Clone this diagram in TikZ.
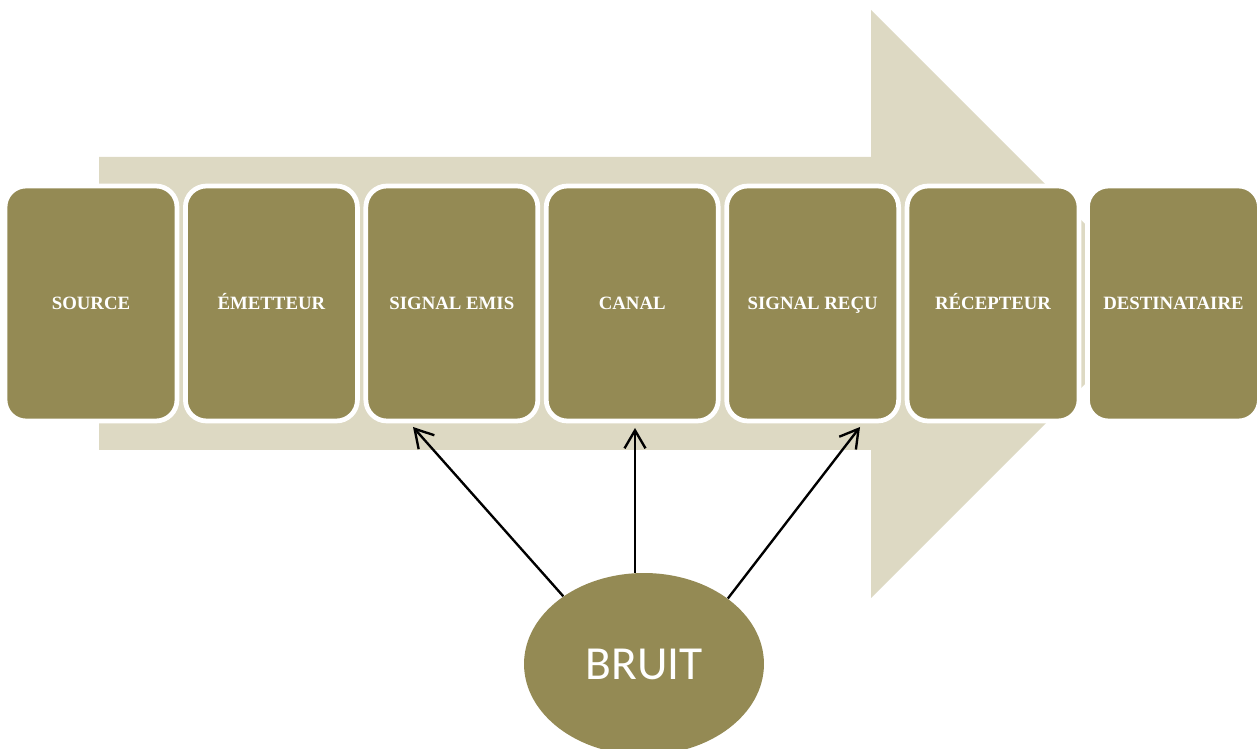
\documentclass[tikz,border=0pt]{standalone}
\usepackage{fontspec}
\setmainfont{Liberation Serif}
\newfontfamily\bruitfont{Carlito}
\definecolor{olive}{RGB}{148,138,84}
\definecolor{pale}{RGB}{221,217,195}
\usetikzlibrary{arrows.meta,positioning,shapes.geometric}
\tikzset{
  stage/.style={draw=white,line width=2.7pt,rounded corners=0.42cm,fill=olive,
                minimum width=3.44cm,minimum height=4.7cm,inner sep=2pt,
                text height=0.66em,text depth=0pt,
                text=white,font=\bfseries\fontsize{10.7}{12}\selectfont},
  noise/.style={ellipse,fill=olive,minimum width=4.8cm,minimum height=3.64cm,
                inner sep=0pt,text=white,font=\bruitfont\fontsize{27}{30}\selectfont},
  arr/.style={-{Straight Barb[length=3.6mm,width=4.2mm]},line width=1.35pt,draw=black},
}

\begin{document}
\begin{tikzpicture}[x=0.02cm,y=-0.02cm,node distance=0.074cm]
    \useasboundingbox (0,0) rectangle (1258,749);
    % background arrow
    \fill[pale] (99,157) -- (871,157) -- (871,10) -- (1165,304)
                -- (871,598) -- (871,450) -- (99,450) -- cycle;
    \node[stage] (source) at (91,303.5) {SOURCE};
    \node[stage,right=of source] (emetteur) {ÉMETTEUR};
    \node[stage,right=of emetteur] (emis) {SIGNAL EMIS};
    \node[stage,right=of emis] (canal) {CANAL};
    \node[stage,right=of canal] (recu) {SIGNAL REÇU};
    \node[stage,right=of recu] (recepteur) {RÉCEPTEUR};
    \node[stage,right=of recepteur] (dest) {DESTINATAIRE};
    \node[noise] (bruit) at (644,664) {BRUIT};
    \coordinate (emis tip) at (413,427);
    \coordinate (canal tip) at (635,428);
    \coordinate (recu tip) at (860,427);
    \draw[arr] (bruit.140) -- (emis tip);
    \draw[arr] (canal tip |- bruit.north) -- (canal tip);
    \draw[arr] (bruit.38) -- (recu tip);
  \end{tikzpicture}
\end{document}
